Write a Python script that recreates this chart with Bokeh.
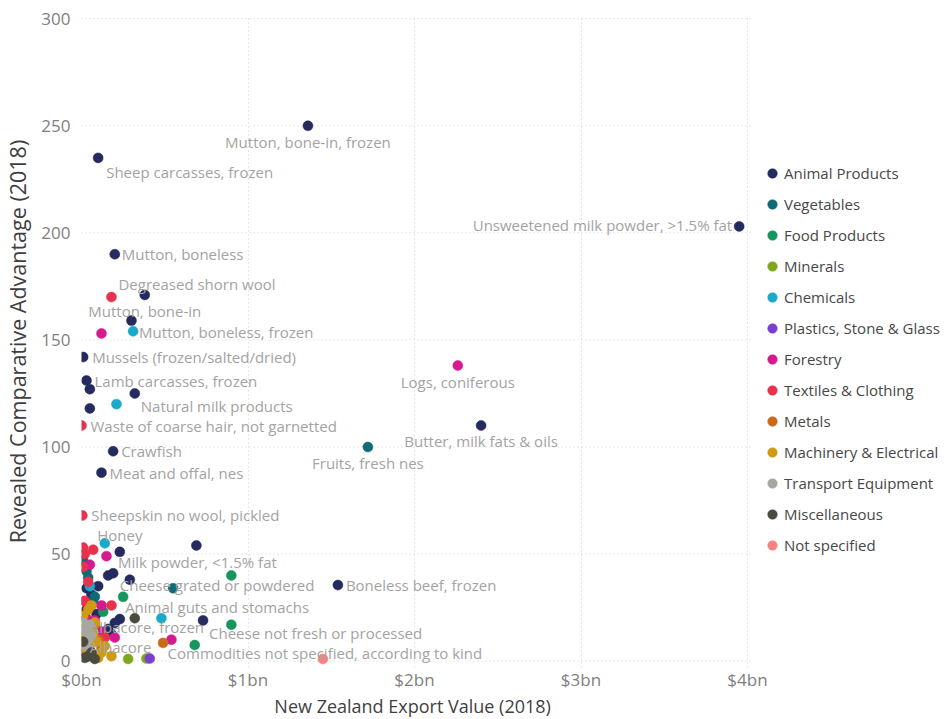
from bokeh.plotting import figure
from bokeh.models import (ColumnDataSource, Range1d, FixedTicker, Legend, LegendItem)
from bokeh.embed import file_html
from bokeh.resources import INLINE
from bokeh.core.properties import value

# ---------------- data ----------------
categories = ["Animal Products", "Vegetables", "Food Products", "Minerals", "Chemicals",
              "Plastics, Stone & Glass", "Forestry", "Textiles & Clothing", "Metals",
              "Machinery & Electrical", "Transport Equipment", "Miscellaneous", "Not specified"]

animal_x = [1.36, 0.10, 3.95, 0.20, 0.38, 0.30, 0.01, 0.03, 0.05, 0.32, 0.05, 0.19, 0.12, 2.40,
            1.54, 0.23, 0.69, 0.16, 0.19, 0.29, 0.10, 0.03, 0.09, 0.23, 0.20, 0.73, 0.16, 0.18,
            0.03, 0.06]
animal_y = [250, 235, 203, 190, 171, 159, 142, 131, 127, 125, 118, 98, 88, 110,
            35.5, 51, 54, 40, 41, 38, 35, 34, 22, 19.6, 17.8, 19, 15, 12.6,
            24, 31]
veg_x = [1.72, 0.55, 0.08, 0.03, 0.01, 0.04, 0.07]
veg_y = [100, 34, 30, 42, 47, 39, 27]
food_x = [0.90, 0.25, 0.90, 0.68, 0.13, 0.05]
food_y = [40, 30, 17, 7.5, 23, 13]
min_x = [0.28, 0.39, 0.03]
min_y = [1, 1.2, 2]
chem_x = [0.31, 0.21, 0.14, 0.48, 0.05]
chem_y = [154, 120, 55, 20, 35]
plast_x = [0.41, 0.02]
plast_y = [1.2, 4]
forest_x = [0.12, 2.26, 0.15, 0.05, 0.12, 0.03, 0.54, 0.20, 0.08, 0.02, 0.11]
forest_y = [153, 138, 49, 45, 26, 20, 10, 11, 19, 28, 14]
text_x = [0.18, 0.00, 0.005, 0.07, 0.02, 0.04, 0.02, 0.18, 0.14, 0.01, 0.01]
text_y = [170, 110, 68, 52, 50, 37, 28, 26, 11, 44, 53]
metal_x = [0.49, 0.05, 0.12, 0.08, 0.10]
metal_y = [8.5, 9, 5.6, 17, 10]
mach_x = [0.06, 0.03, 0.09, 0.18, 0.01, 0.12, 0.05, 0.14, 0.02, 0.08, 0.10, 0.04,
          0.01, 0.04, 0.07, 0.02]
mach_y = [26, 16, 9, 2.3, 21, 4, 5.6, 7, 10, 18, 1.5, 24,
          12, 3, 13, 6]
trans_x = [0.02, 0.06, 0.03, 0.01, 0.05, 0.04]
trans_y = [14, 12, 7, 18, 17, 10]
misc_x = [0.32, 0.04, 0.01, 0.06, 0.02, 0.08]
misc_y = [20, 2.3, 9, 4, 1.5, 1]
nspec_x = [1.45]
nspec_y = [1]

series_x = [animal_x, veg_x, food_x, min_x, chem_x, plast_x, forest_x, text_x, metal_x,
            mach_x, trans_x, misc_x, nspec_x]
series_y = [animal_y, veg_y, food_y, min_y, chem_y, plast_y, forest_y, text_y, metal_y,
            mach_y, trans_y, misc_y, nspec_y]

label_names = ["Mutton, bone-in, frozen", "Sheep carcasses, frozen",
               "Unsweetened milk powder, >1.5% fat", "Mutton, boneless",
               "Degreased shorn wool", "Mutton, bone-in", "Mutton, boneless, frozen",
               "Mussels (frozen/salted/dried)", "Lamb carcasses, frozen",
               "Natural milk products", "Waste of coarse hair, not garnetted", "Crawfish",
               "Meat and offal, nes", "Sheepskin no wool, pickled", "Honey",
               "Milk powder, <1.5% fat", "Logs, coniferous", "Butter, milk fats & oils",
               "Fruits, fresh nes", "Boneless beef, frozen", "Cheese grated or powdered",
               "Animal guts and stomachs", "Albacore, frozen", "Cheese not fresh or processed",
               "Albacore", "Commodities not specified, according to kind"]
label_x = [1.36, 0.10, 3.95, 0.20, 0.18, 0.38, 0.31, 0.01, 0.03, 0.32, 0.00, 0.19, 0.12, 0.005,
           0.23, 0.69, 2.26, 2.40, 1.72, 1.54, 0.29, 0.25, 0.08, 0.73, 0.05, 1.45]
label_y = [250, 235, 203, 190, 170, 171, 154, 142, 131, 125, 110, 98, 88, 68,
           51, 54, 138, 110, 100, 35.5, 38, 30, 19, 19, 9, 1]

x_ticks = [0, 1, 2, 3, 4]
x_tick_labels = ["$0bn", "$1bn", "$2bn", "$3bn", "$4bn"]
y_ticks = [0, 50, 100, 150, 200, 250, 300]
x_title = "New Zealand Export Value (2018)"
y_title = "Revealed Comparative Advantage (2018)"

# ---------------- layout / style ----------------
colors = ["#252B5E", "#0F6B75", "#17955F", "#7FA71E", "#1AA9C8", "#7B3FD0", "#D31A8E",
          "#E8324D", "#C8691C", "#D09A12", "#A7A7A1", "#4A4A3F", "#F68382"]

label_dx = [0, 8, -7, 7, 7, 0, 6, 9, 8, 6, 9, 8, 8, 9, 0, 1, 0, 0, 0, 8, -10, 2, -5, 6, 0, 2]
label_dy = [16, 14, -1, 0, -13, 16, 1, 0, 0, 13, 0, 0, 0, 0, -17, 17, 16, 15, 16, 0, 5, 10, 7, 13, 5, -6]
label_al = ["center", "left", "right", "left", "left", "center", "left", "left", "left", "left",
            "left", "left", "left", "left", "center", "center", "center", "center", "center",
            "left", "left", "left", "left", "left", "left", "center"]

FONT = "Open Sans"
PLOT_X_END = 4.03          # where the plotted area (grid) ends
PX_PER_BN = 166.5
FRAME_W = 868              # frame spans to the right edge so the legend is visible
TITLE_PAD = "\u00a0" * 44  # invisible padding: shifts the centred x title under the plot area

p = figure(frame_width=FRAME_W, frame_height=652, output_backend="svg", toolbar_location=None,
           x_range=Range1d(0, FRAME_W / PX_PER_BN), y_range=Range1d(-3, 301.5),
           min_border_left=79, min_border_right=0, min_border_top=15, min_border_bottom=40)
p.outline_line_color = None
p.background_fill_color = "white"
p.border_fill_color = "white"

for ax in (p.xaxis[0], p.yaxis[0]):
    ax.axis_line_color = None
    ax.major_tick_line_color = None
    ax.minor_tick_line_color = None
    ax.major_tick_out = 0
    ax.major_tick_in = 0
    ax.minor_tick_out = 0
    ax.minor_tick_in = 0
    ax.major_label_text_font = FONT
    ax.major_label_text_font_size = "17px"
    ax.major_label_text_color = "#7f7f7f"
    ax.axis_label_text_font = FONT
    ax.axis_label_text_font_style = "normal"
    ax.axis_label_text_color = "#3f3f3f"

p.xaxis.ticker = FixedTicker(ticks=x_ticks)
p.xaxis.major_label_overrides = {t: l for t, l in zip(x_ticks, x_tick_labels)}
p.yaxis.ticker = FixedTicker(ticks=y_ticks)
p.xaxis.axis_label = x_title + TITLE_PAD
p.yaxis.axis_label = y_title
p.xaxis.axis_label_text_font_size = "18px"
p.yaxis.axis_label_text_font_size = "21.5px"
p.xaxis.major_label_standoff = 0
p.xaxis.axis_label_standoff = 0
p.yaxis.major_label_standoff = 11
p.yaxis.axis_label_standoff = 6

GRID_COLOR = "#cfcfcf"
p.xgrid.ticker = FixedTicker(ticks=x_ticks)
p.xgrid.grid_line_color = GRID_COLOR
p.xgrid.grid_line_dash = "1 3"
p.ygrid.grid_line_color = None
# horizontal grid lines limited to the plotted area
p.segment(x0=[0] * len(y_ticks), x1=[PLOT_X_END] * len(y_ticks), y0=y_ticks, y1=y_ticks,
          line_color=GRID_COLOR, line_dash="1 3", line_width=1)

items = []
for cat, col, xs, ys in zip(categories, colors, series_x, series_y):
    r = p.scatter(xs, ys, size=10, fill_color=col, line_color=col, line_width=0.5)
    items.append(LegendItem(label=cat, renderers=[r]))

src = ColumnDataSource(dict(x=label_x, y=label_y, t=label_names, dx=label_dx, dy=label_dy,
                            al=label_al))
p.text("x", "y", text="t", source=src, x_offset="dx", y_offset="dy", text_align="al",
       text_baseline="middle", text_font=value(FONT), text_font_size="15px",
       text_color="#a3a3a3")

legend = Legend(items=items, location=(679, 110), orientation="vertical",
                border_line_color=None, background_fill_alpha=0, padding=0, margin=0,
                glyph_width=24, glyph_height=24, label_height=24, spacing=7,
                label_standoff=-3, label_text_font=FONT, label_text_font_size="15px",
                label_text_color="#474747")
p.add_layout(legend, "center")

open("out.html", "w").write(file_html(p, INLINE))
